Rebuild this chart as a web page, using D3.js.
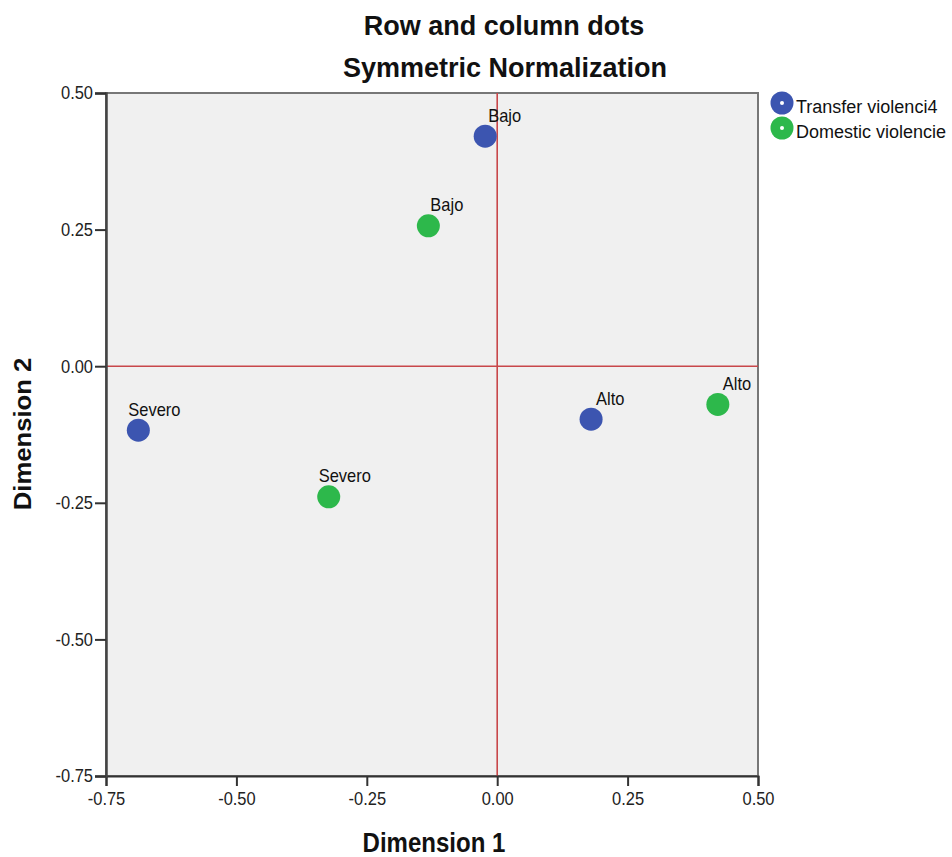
<!DOCTYPE html>
<html>
<head>
<meta charset="utf-8">
<script src="https://cdn.jsdelivr.net/npm/d3@7"></script>
<style>
  body { margin: 0; background: #fff; }
  svg { display: block; font-family: "Liberation Sans", Arial, sans-serif; }
</style>
</head>
<body>
<svg id="chart" width="952" height="857"></svg>
<script>
// ---- data ----
const categories = ["Bajo", "Alto", "Severo"];
const transferDim1 = [-0.023, 0.180, -0.688];
const transferDim2 = [0.421, -0.097, -0.117];
const domesticDim1 = [-0.132, 0.423, -0.323];
const domesticDim2 = [0.257, -0.070, -0.239];
const seriesNames = ["Transfer violenci4", "Domestic violencie"];
const seriesColors = ["#3c55b0", "#2db84b"];
const tickValues = [-0.75, -0.50, -0.25, 0.00, 0.25, 0.50];
const labelShift = [[3, 5, -10], [2, 5, -10]]; // label x shift per point (px)

// ---- layout ----
const svg = d3.select("#chart");
const plot = { left: 106, right: 758, top: 93, bottom: 776 };
const squish = 0.89;

const x = d3.scaleLinear().domain([-0.75, 0.5]).range([plot.left, plot.right]);
const y = d3.scaleLinear().domain([-0.75, 0.5]).range([plot.bottom, plot.top]);

// titles
svg.append("text").attr("x", 504).attr("y", 35).attr("text-anchor", "middle")
  .attr("font-size", 27).attr("font-weight", "bold").attr("fill", "#111")
  .text("Row and column dots");
svg.append("text").attr("x", 505).attr("y", 77).attr("text-anchor", "middle")
  .attr("font-size", 27).attr("font-weight", "bold").attr("fill", "#111")
  .text("Symmetric Normalization");

// plot background
svg.append("rect").attr("x", plot.left).attr("y", plot.top)
  .attr("width", plot.right - plot.left).attr("height", plot.bottom - plot.top)
  .attr("fill", "#f0f0f0").attr("stroke", "#777").attr("stroke-width", 2);

// reference lines
svg.append("line").attr("x1", x(0)).attr("x2", x(0)).attr("y1", plot.top).attr("y2", plot.bottom)
  .attr("stroke", "#c8474a").attr("stroke-width", 1.6);
svg.append("line").attr("x1", plot.left).attr("x2", plot.right).attr("y1", y(0)).attr("y2", y(0))
  .attr("stroke", "#c8474a").attr("stroke-width", 1.6);

const fmt = d => d.toFixed(2);

// x axis
const gx = svg.append("g").attr("transform", `translate(0,${plot.bottom})`)
  .call(d3.axisBottom(x).tickValues(tickValues).tickFormat(fmt).tickSize(10).tickPadding(6));
gx.select(".domain").attr("stroke", "#333").attr("stroke-width", 2);
gx.selectAll(".tick line").attr("stroke", "#333").attr("stroke-width", 2);
gx.selectAll(".tick text").attr("font-size", 18.5).attr("fill", "#222")
  .attr("font-family", "Liberation Sans, Arial, sans-serif")
  .attr("transform", `scale(${squish},1)`);

// y axis
const gy = svg.append("g").attr("transform", `translate(${plot.left},0)`)
  .call(d3.axisLeft(y).tickValues(tickValues).tickFormat(fmt).tickSize(11).tickPadding(2));
gy.select(".domain").attr("stroke", "#444").attr("stroke-width", 2.5);
gy.selectAll(".tick line").attr("stroke", "#333").attr("stroke-width", 2);
gy.selectAll(".tick text").attr("font-size", 18.5).attr("fill", "#222")
  .attr("font-family", "Liberation Sans, Arial, sans-serif")
  .attr("x", -13 / squish)
  .attr("transform", `scale(${squish},1)`);

// axis titles
svg.append("g").attr("transform", `translate(434,852) scale(${squish},1)`)
  .append("text").attr("text-anchor", "middle").attr("font-size", 27).attr("font-weight", "bold")
  .attr("fill", "#111").text("Dimension 1");
svg.append("g").attr("transform", `translate(31,434) rotate(-90) scale(0.95,${squish})`)
  .append("text").attr("text-anchor", "middle").attr("font-size", 27).attr("font-weight", "bold")
  .attr("fill", "#111").text("Dimension 2");

// points
const series = [
  categories.map((c, i) => ({ c, d1: transferDim1[i], d2: transferDim2[i], dx: labelShift[0][i] })),
  categories.map((c, i) => ({ c, d1: domesticDim1[i], d2: domesticDim2[i], dx: labelShift[1][i] }))
];

series.forEach((pts, si) => {
  const g = svg.append("g");
  g.selectAll("circle").data(pts).join("circle")
    .attr("cx", d => x(d.d1)).attr("cy", d => y(d.d2)).attr("r", 11.5)
    .attr("fill", seriesColors[si]);
  g.selectAll("g.lbl").data(pts).join("g").attr("class", "lbl")
    .attr("transform", d => `translate(${x(d.d1) + d.dx},${y(d.d2) - 14.3}) scale(${squish},1)`)
    .append("text").attr("font-size", 18.5).attr("fill", "#111").text(d => d.c);
});

// legend
const legend = svg.append("g");
seriesNames.forEach((name, i) => {
  const cy = 103 + i * 25;
  legend.append("circle").attr("cx", 782).attr("cy", cy).attr("r", 11.5).attr("fill", seriesColors[i]);
  legend.append("circle").attr("cx", 782).attr("cy", cy).attr("r", 2).attr("fill", "#fff");
  legend.append("text").attr("x", 796).attr("y", cy + 9.5).attr("font-size", 18)
    .attr("fill", "#111").text(name);
});
</script>
</body>
</html>
